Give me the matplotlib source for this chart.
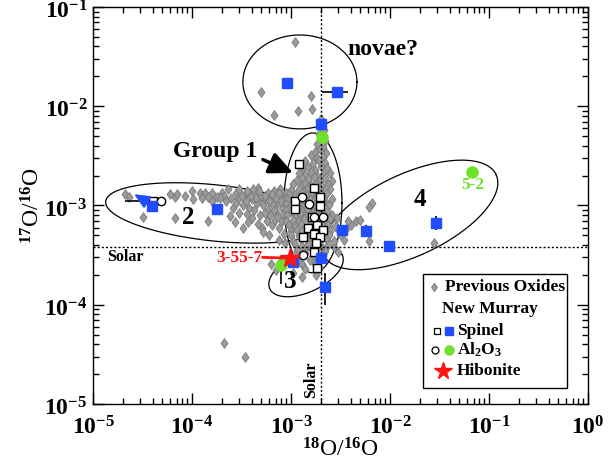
import numpy as np
import matplotlib
matplotlib.use('Agg')
import matplotlib.pyplot as plt
from matplotlib.path import Path
from matplotlib.patches import Rectangle
from matplotlib.transforms import ScaledTranslation

plt.rcParams['font.family'] = ['Liberation Serif', 'DejaVu Serif']
plt.rcParams['font.weight'] = 'bold'
plt.rcParams['mathtext.fontset'] = 'custom'
plt.rcParams['mathtext.rm'] = 'Liberation Serif:bold'
plt.rcParams['mathtext.it'] = 'Liberation Serif:bold'
plt.rcParams['mathtext.bf'] = 'Liberation Serif:bold'
plt.rcParams['mathtext.default'] = 'bf'

# ---------------- data ----------------
sol_18 = 2.005e-3
sol_17 = 3.83e-4

x_ticks = [1e-5, 1e-4, 1e-3, 1e-2, 1e-1, 1e0]
x_tick_labels = ['$10^{-5}$', '$10^{-4}$', '$10^{-3}$', '$10^{-2}$', '$10^{-1}$', '$10^{0}$']
y_ticks = [1e-5, 1e-4, 1e-3, 1e-2, 1e-1]
y_tick_labels = ['$10^{-5}$', '$10^{-4}$', '$10^{-3}$', '$10^{-2}$', '$10^{-1}$']

# Previous oxides (grey diamonds): (18O/16O, 17O/16O)
prev_group1 = [
    (2.0e-3, 4.8e-3), (2.2e-3, 4.5e-3),
    (1.85e-3, 4.2e-3), (2.1e-3, 3.9e-3),
    (1.75e-3, 3.5e-3), (1.95e-3, 3.7e-3), (2.25e-3, 3.4e-3),
    (1.6e-3, 3.2e-3), (1.85e-3, 3.0e-3), (2.1e-3, 3.1e-3),
    (1.4e-3, 2.8e-3), (1.65e-3, 2.65e-3), (1.9e-3, 2.85e-3), (2.2e-3, 2.7e-3),
    (1.3e-3, 2.35e-3), (1.5e-3, 2.45e-3), (1.75e-3, 2.3e-3), (2.0e-3, 2.5e-3), (2.3e-3, 2.4e-3),
    (1.2e-3, 2.15e-3), (1.4e-3, 2.05e-3), (1.6e-3, 2.2e-3), (1.85e-3, 2.0e-3), (2.1e-3, 2.1e-3), (2.5e-3, 2.15e-3),
    (1.15e-3, 1.8e-3), (1.3e-3, 1.9e-3), (1.5e-3, 1.85e-3), (1.7e-3, 1.95e-3), (1.95e-3, 1.8e-3), (2.2e-3, 1.88e-3), (2.6e-3, 1.78e-3),
    (1.05e-3, 1.65e-3), (1.25e-3, 1.58e-3), (1.4e-3, 1.68e-3), (1.6e-3, 1.6e-3), (1.8e-3, 1.66e-3), (2.05e-3, 1.57e-3), (2.35e-3, 1.63e-3),
    (1.0e-3, 1.42e-3), (1.2e-3, 1.48e-3), (1.35e-3, 1.4e-3), (1.5e-3, 1.5e-3), (1.7e-3, 1.44e-3), (1.9e-3, 1.47e-3), (2.15e-3, 1.41e-3), (2.5e-3, 1.46e-3),
    (9.5e-4, 1.32e-3), (1.1e-3, 1.27e-3), (1.3e-3, 1.33e-3), (1.45e-3, 1.28e-3), (1.6e-3, 1.31e-3), (1.8e-3, 1.26e-3), (2.0e-3, 1.3e-3), (2.3e-3, 1.34e-3),
    (9.2e-4, 1.16e-3), (1.05e-3, 1.12e-3), (1.25e-3, 1.18e-3), (1.4e-3, 1.14e-3), (1.55e-3, 1.17e-3), (1.75e-3, 1.13e-3), (1.95e-3, 1.15e-3), (2.2e-3, 1.11e-3), (2.6e-3, 1.16e-3),
    (9.0e-4, 1.03e-3), (1.0e-3, 1.0e-3), (1.2e-3, 1.05e-3), (1.35e-3, 1.01e-3), (1.5e-3, 1.04e-3), (1.7e-3, 0.99e-3), (1.9e-3, 1.02e-3), (2.1e-3, 1.06e-3), (2.4e-3, 1.0e-3),
    (8.8e-4, 9.1e-4), (1.0e-3, 8.8e-4), (1.15e-3, 9.2e-4), (1.3e-3, 8.9e-4), (1.45e-3, 9.3e-4), (1.65e-3, 8.7e-4), (1.85e-3, 9.0e-4), (2.05e-3, 9.2e-4), (2.3e-3, 8.8e-4),
    (9.2e-4, 8.1e-4), (1.1e-3, 7.9e-4), (1.25e-3, 8.2e-4), (1.4e-3, 7.8e-4), (1.6e-3, 8.1e-4), (1.8e-3, 7.9e-4), (2.0e-3, 8.3e-4), (2.2e-3, 7.8e-4), (2.6e-3, 8.0e-4),
    (9.0e-4, 7.0e-4), (1.05e-3, 7.2e-4), (1.2e-3, 6.9e-4), (1.35e-3, 7.3e-4), (1.55e-3, 7.0e-4), (1.75e-3, 7.2e-4), (1.95e-3, 6.9e-4), (2.15e-3, 7.1e-4), (2.45e-3, 7.3e-4),
    (9.5e-4, 6.4e-4), (1.1e-3, 6.2e-4), (1.25e-3, 6.5e-4), (1.45e-3, 6.1e-4), (1.65e-3, 6.3e-4), (1.85e-3, 6.5e-4), (2.1e-3, 6.2e-4), (2.35e-3, 6.4e-4), (2.8e-3, 6.2e-4),
    (1.0e-3, 5.5e-4), (1.15e-3, 5.7e-4), (1.3e-3, 5.5e-4), (1.5e-3, 5.8e-4), (1.7e-3, 5.6e-4), (1.9e-3, 5.4e-4), (2.2e-3, 5.7e-4), (2.5e-3, 5.5e-4),
    (1.0e-3, 5.1e-4), (1.2e-3, 4.9e-4), (1.4e-3, 5.0e-4), (1.6e-3, 5.2e-4), (1.8e-3, 4.9e-4), (2.05e-3, 5.1e-4), (2.4e-3, 5.0e-4),
    (1.05e-3, 4.4e-4), (1.25e-3, 4.6e-4), (1.45e-3, 4.5e-4), (1.7e-3, 4.4e-4), (1.95e-3, 4.6e-4), (2.3e-3, 4.5e-4), (2.7e-3, 4.4e-4),
    (1.1e-3, 4.1e-4), (1.3e-3, 3.9e-4), (1.5e-3, 4.0e-4), (1.75e-3, 4.1e-4), (2.0e-3, 3.9e-4), (2.35e-3, 4.0e-4),
    (1.15e-3, 3.6e-4), (1.35e-3, 3.5e-4), (1.6e-3, 3.7e-4), (1.9e-3, 3.6e-4), (2.2e-3, 3.5e-4),
    (1.1e-3, 3.2e-4), (1.4e-3, 3.3e-4), (1.7e-3, 3.1e-4), (2.1e-3, 3.2e-4),
    (1.2e-3, 2.9e-4), (1.55e-3, 2.8e-4), (1.85e-3, 2.9e-4),
    (1.3e-3, 2.6e-4), (1.75e-3, 2.55e-4),
    (1.4e-3, 2.3e-4), (1.9e-3, 2.35e-4),
]
prev_group2 = [
    (2.1e-5, 1.3e-3), (2.3e-5, 1.22e-3), (3.2e-5, 7.7e-4), (6.0e-5, 1.3e-3),
    (6.7e-5, 1.23e-3), (7.1e-5, 1.3e-3), (6.8e-5, 7.4e-4), (1.0e-4, 1.41e-3),
    (1.02e-4, 1.15e-3), (1.2e-4, 1.35e-3), (1.35e-4, 1.35e-3), (1.45e-4, 1.23e-3),
    (1.6e-4, 1.1e-3), (1.45e-4, 6.9e-4), (1.8e-4, 1.23e-3), (1.6e-4, 1.35e-3),
    (2.0e-4, 1.35e-3), (2.1e-4, 1.25e-3), (2.8e-4, 1.35e-3), (3.4e-4, 1.29e-3),
    (4.6e-4, 1.5e-3), (4.6e-4, 1.15e-3), (5.9e-4, 1.35e-3), (4.0e-4, 1.15e-3),
    (3.3e-4, 1.0e-3), (3.0e-4, 8.5e-4), (2.4e-4, 7.8e-4), (2.7e-4, 6.8e-4),
    (3.7e-4, 6.8e-4), (3.3e-4, 6.0e-4), (5.1e-4, 6.0e-4), (5.2e-4, 5.4e-4),
    (6.5e-4, 6.3e-4), (6.9e-4, 7.1e-4), (2.2e-4, 1.1e-3), (2.5e-4, 1.2e-3),
    (3.0e-4, 1.45e-3), (3.6e-4, 1.4e-3), (3.9e-4, 1.25e-3), (4.3e-4, 1.35e-3),
    (5.0e-4, 1.25e-3), (5.4e-4, 1.1e-3), (6.2e-4, 1.2e-3), (6.8e-4, 1.4e-3),
    (7.3e-4, 1.05e-3), (7.8e-4, 1.25e-3), (8.2e-4, 9.5e-4), (5.8e-4, 9.0e-4),
    (4.9e-4, 8.0e-4), (4.2e-4, 9.0e-4), (6.2e-4, 8.0e-4), (7.0e-4, 8.7e-4),
    (8.5e-4, 1.15e-3), (7.5e-4, 6.0e-4), (8.2e-4, 7.0e-4), (8.5e-4, 5.2e-4),
    (6.0e-4, 5.0e-4), (7.5e-4, 4.5e-4), (8.6e-4, 4.2e-4), (2.6e-4, 9.5e-4),
    (7.8e-4, 1.45e-3), (8.8e-4, 1.35e-3), (6.6e-4, 1.0e-3), (4.5e-4, 1.05e-3),
    (2.3e-4, 1.45e-3), (2.9e-4, 1.15e-3), (3.2e-4, 1.25e-3), (3.5e-4, 1.1e-3),
    (3.8e-4, 9.5e-4), (4.1e-4, 1.45e-3), (4.4e-4, 1.2e-3), (4.8e-4, 1.4e-3),
    (5.2e-4, 1.0e-3), (5.5e-4, 1.25e-3), (5.7e-4, 7.0e-4), (6.0e-4, 1.1e-3),
    (6.4e-4, 1.3e-3), (6.7e-4, 9.0e-4), (7.1e-4, 1.2e-3), (7.2e-4, 7.7e-4),
    (7.6e-4, 1.35e-3), (8.0e-4, 1.1e-3), (8.3e-4, 8.3e-4), (4.0e-4, 7.5e-4),
    (4.6e-4, 6.5e-4), (5.5e-4, 8.5e-4), (3.6e-4, 8.3e-4), (2.8e-4, 1.05e-3),
    (1.9e-4, 1.2e-3), (1.25e-4, 1.2e-3), (8.5e-5, 1.25e-3),
]
prev_group3 = [
    (7.0e-4, 2.25e-4), (1.3e-3, 1.9e-4), (1.8e-3, 2.0e-4), (8.0e-4, 2.75e-4),
    (1.05e-3, 2.1e-4), (6.3e-4, 2.6e-4), (2.1e-4, 4.1e-5), (3.4e-4, 3.0e-5),
]
prev_group4 = [
    (6.6e-3, 1.05e-3), (6.2e-3, 9.6e-4), (6.2e-3, 4.4e-4), (2.8e-2, 4.2e-4),
    (4.0e-3, 6.3e-4), (4.5e-3, 6.9e-4), (5.0e-3, 7.2e-4), (3.6e-3, 5.8e-4),
    (3.2e-3, 5.1e-4), (2.9e-3, 6.0e-4), (3.4e-3, 4.5e-4), (2.7e-3, 3.8e-4),
    (3.0e-3, 3.4e-4), (2.9e-3, 7.4e-4), (3.8e-3, 6.9e-4),
]
prev_novae = [
    (1.1e-3, 4.4e-2), (5.0e-4, 1.4e-2), (1.59e-3, 1.27e-2), (6.8e-4, 8.2e-3),
    (1.17e-3, 8.9e-3), (1.63e-3, 9.3e-3), (2.0e-3, 7.5e-3), (2.15e-3, 5.8e-3),
    (1.9e-3, 5.3e-3),
]

# New Murray spinel: open squares and blue squares
spinel_open_x = [1.2e-3, 1.7e-3, 1.95e-3, 1.1e-3, 1.1e-3, 1.63e-3, 1.95e-3, 1.82e-3,
                 1.48e-3, 2.09e-3, 1.74e-3, 1.32e-3, 1.7e-3, 1.95e-3, 1.7e-3, 1.78e-3,
                 1.82e-3, 4.0e-5]
spinel_open_y = [2.6e-3, 1.5e-3, 1.23e-3, 1.12e-3, 9.3e-4, 7.6e-4, 9.8e-4, 6.3e-4,
                 5.9e-4, 5.6e-4, 5.3e-4, 4.8e-4, 5.2e-4, 4.8e-4, 3.4e-4, 4.2e-4,
                 2.34e-4, 1.1e-3]
spinel_blue_x = [9.1e-4, 2.9e-3, 2.0e-3, 3.9e-5, 1.8e-4, 3.3e-3, 5.7e-3, 9.8e-3,
                 2.9e-2, 2.0e-3, 2.19e-3, 1.05e-3]
spinel_blue_y = [1.7e-2, 1.39e-2, 6.7e-3, 9.9e-4, 9.3e-4, 5.6e-4, 5.5e-4, 3.9e-4,
                 6.6e-4, 2.95e-4, 1.51e-4, 2.7e-4]

al2o3_open_x = [1.3e-3, 1.52e-3, 1.7e-3, 2.09e-3, 1.32e-3, 4.9e-5]
al2o3_open_y = [1.23e-3, 1.03e-3, 7.6e-4, 7.6e-4, 3.2e-4, 1.1e-3]
al2o3_green_x = [2.04e-3, 8.0e-4, 6.7e-2]
al2o3_green_y = [4.9e-3, 2.5e-4, 2.2e-3]

hibonite_x = [9.8e-4]
hibonite_y = [2.95e-4]

# error bars: (x, y, x_low, x_high, y_low, y_high)
err_bars = [
    (2.9e-3, 1.39e-2, 2.04e-3, 3.8e-3, 1.25e-2, 1.55e-2),
    (5.7e-3, 5.5e-4, 5.7e-3, 5.7e-3, 4.8e-4, 6.3e-4),
    (2.9e-2, 6.6e-4, 2.9e-2, 2.9e-2, 5.6e-4, 7.8e-4),
    (2.19e-3, 1.51e-4, 2.19e-3, 2.19e-3, 1.0e-4, 2.1e-4),
    (8.0e-4, 2.5e-4, 8.0e-4, 8.0e-4, 1.6e-4, 3.1e-4),
    (4.0e-5, 1.1e-3, 2.1e-5, 5.4e-5, 1.1e-3, 1.1e-3),
]

# group ellipses in log10 space: (centre log18, centre log17, semi-a, semi-b, angle deg)
ellipses = [
    (-2.91, -1.755, 0.576, 0.473, 0),    # novae
    (-2.778, -2.974, 0.293, 0.705, 0),   # group 1
    (-3.768, -3.075, 1.11, 0.283, -6),   # group 2
    (-2.848, -3.669, 0.404, 0.202, 25),  # group 3
    (-1.798, -3.095, 0.96, 0.413, 25),   # group 4
]

# ---------------- figure ----------------
W, H = 613, 461
fig = plt.figure(figsize=(W / 100, H / 100), dpi=100)
ax = fig.add_axes([93 / W, 1 - 404 / H, 495 / W, 397 / H])
ax.set_xscale('log')
ax.set_yscale('log')
ax.set_xlim(1e-5, 1)
ax.set_ylim(1e-5, 1e-1)

ax.set_xticks(x_ticks)
ax.set_xticklabels(x_tick_labels)
ax.set_yticks(y_ticks)
ax.set_yticklabels(y_tick_labels)
ax.tick_params(which='both', direction='in', top=True, right=True, width=1)
ax.tick_params(which='major', length=8, labelsize=17, pad=4)
ax.tick_params(which='minor', length=4)
ax.tick_params(axis='x', which='major', pad=9)
for s in ax.spines.values():
    s.set_linewidth(1)
shift = ScaledTranslation(0, -1.8 / 72, fig.dpi_scale_trans)
for lab in ax.get_yticklabels():
    lab.set_transform(lab.get_transform() + shift)

ax.set_xlabel('$^{18}$O/$^{16}$O', fontsize=17, labelpad=-1)
ax.set_ylabel('$^{17}$O/$^{16}$O', fontsize=17, labelpad=0)

# ellipses
for cx, cy, a, b, ang in ellipses:
    t = np.linspace(0, 2 * np.pi, 400)
    th = np.deg2rad(ang)
    ex = cx + a * np.cos(t) * np.cos(th) - b * np.sin(t) * np.sin(th)
    ey = cy + a * np.cos(t) * np.sin(th) + b * np.sin(t) * np.cos(th)
    ax.plot(10 ** ex, 10 ** ey, color='black', lw=0.9, zorder=1)

# solar lines
ax.axvline(sol_18, color='black', ls=(0, (1.5, 1.5)), lw=1, zorder=3)
ax.axhline(sol_17, color='black', ls=(0, (1.5, 1.5)), lw=1, zorder=3)

# diamonds
diamond = Path([(0, 1), (0.72, 0), (0, -1), (-0.72, 0), (0, 1)],
               [Path.MOVETO, Path.LINETO, Path.LINETO, Path.LINETO, Path.CLOSEPOLY])
for grp in (prev_group2, prev_group3, prev_group4, prev_novae, prev_group1):
    gx = [p[0] for p in grp]
    gy = [p[1] for p in grp]
    ax.plot(gx, gy, ls='none', marker=diamond, ms=7, mfc='#9b9b9b',
            mec='#7a7a7a', mew=0.6, zorder=2)

# error bars
for x, y, xl, xh, yl, yh in err_bars:
    ax.errorbar([x], [y], xerr=[[x - xl], [xh - x]], yerr=[[y - yl], [yh - y]],
                fmt='none', ecolor='black', elinewidth=1.2, capsize=0, zorder=4)

# open symbols
ax.plot(spinel_open_x, spinel_open_y, ls='none', marker='s', ms=6, mfc='white',
        mec='black', mew=1, zorder=5)
ax.plot(al2o3_open_x, al2o3_open_y, ls='none', marker='o', ms=6, mfc='white',
        mec='black', mew=1, zorder=5)

BLUE = '#1f4dff'
GREEN = '#6fe12a'
RED = '#ff1414'
ax.plot(spinel_blue_x, spinel_blue_y, ls='none', marker='s', ms=6.5, mfc=BLUE,
        mec=BLUE, zorder=6)
ax.plot(al2o3_green_x, al2o3_green_y, ls='none', marker='o', ms=8, mfc=GREEN,
        mec=GREEN, zorder=6)
ax.plot(hibonite_x, hibonite_y, ls='none', marker='*', ms=15, mfc=RED, mec=RED, zorder=7)

# blue upper-limit arrow (group 2 spinel)
ax.annotate('', xy=(2.6e-5, 1.3e-3), xytext=(3.9e-5, 1.02e-3),
            arrowprops=dict(arrowstyle='-|>,head_length=1.0,head_width=0.45',
                            color=BLUE, lw=1.5, mutation_scale=9,
                            shrinkA=0, shrinkB=0), zorder=6)

# text annotations
ax.text(8.5e-3, 3.7e-2, 'novae?', fontsize=17, ha='center', va='center')
ax.text(1.7e-4, 3.47e-3, 'Group 1', fontsize=17, ha='center', va='center')
ax.text(9.1e-5, 7.5e-4, '2', fontsize=18, ha='center', va='center')
ax.text(9.8e-4, 1.7e-4, '3', fontsize=18, ha='center', va='center')
ax.text(2.0e-2, 1.14e-3, '4', fontsize=18, ha='center', va='center')
ax.text(6.9e-2, 1.61e-3, '5-2', fontsize=12.5, ha='center', va='center', color=GREEN)
ax.text(5.1e-4, 2.97e-4, '3-55-7', fontsize=12.5, ha='right', va='center', color=RED)
ax.plot([5.2e-4, 9.8e-4], [3.0e-4, 2.95e-4], color=RED, lw=2, zorder=7)
ax.text(1.38e-5, 3.03e-4, 'Solar', fontsize=11.5, ha='left', va='center')
ax.text(1.6e-3, 1.75e-5, 'Solar', fontsize=11.5, ha='center', va='center', rotation=90)

ax.annotate('', xy=(1.05e-3, 2.13e-3), xytext=(5.2e-4, 2.9e-3),
            arrowprops=dict(arrowstyle='-|>,head_length=1.3,head_width=0.6',
                            color='black', lw=2.5, mutation_scale=11,
                            shrinkA=0, shrinkB=0), zorder=8)

# legend (drawn manually)
ax.add_patch(Rectangle((0.6667, 0.0403), 0.2909, 0.2872, transform=ax.transAxes,
                       facecolor='white', edgecolor='black', lw=1, zorder=10))
kw = dict(transform=ax.transAxes, clip_on=False, zorder=11, ls='none')
ax.plot([0.689], [0.295], marker=diamond, ms=6, mfc='#9b9b9b', mec='#7a7a7a', mew=0.6, **kw)
ax.plot([0.695], [0.184], marker='s', ms=5, mfc='white', mec='black', mew=0.9, **kw)
ax.plot([0.719], [0.184], marker='s', ms=6, mfc=BLUE, mec=BLUE, **kw)
ax.plot([0.691], [0.136], marker='o', ms=5, mfc='white', mec='black', mew=0.9, **kw)
ax.plot([0.719], [0.136], marker='o', ms=6.5, mfc=GREEN, mec=GREEN, **kw)
ax.plot([0.707], [0.083], marker='*', ms=13, mfc=RED, mec=RED, **kw)
tkw = dict(transform=ax.transAxes, fontsize=12.5, ha='left', va='center', zorder=11)
ax.text(0.711, 0.295, 'Previous Oxides', **tkw)
ax.text(0.706, 0.239, 'New Murray', **tkw)
ax.text(0.735, 0.184, 'Spinel', **tkw)
ax.text(0.735, 0.136, 'Al$_2$O$_3$', **tkw)
ax.text(0.735, 0.083, 'Hibonite', **tkw)

fig.savefig('out.png', dpi=100)
